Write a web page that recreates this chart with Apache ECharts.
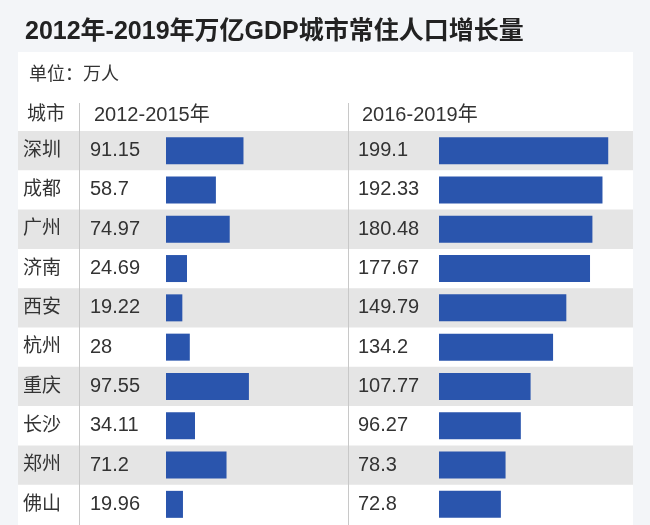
<!DOCTYPE html>
<html>
<head>
<meta charset="utf-8">
<script src="https://cdn.jsdelivr.net/npm/echarts@6/dist/echarts.min.js"></script>
<style>
html,body{margin:0;padding:0;background:#f3f5f8;}
#c{width:650px;height:525px;}
</style>
</head>
<body>
<div id="c"></div>
<script>
const cities = ['深圳','成都','广州','济南','西安','杭州','重庆','长沙','郑州','佛山'];
const growth2012_2015 = [91.15, 58.7, 74.97, 24.69, 19.22, 28, 97.55, 34.11, 71.2, 19.96];
const growth2016_2019 = [199.1, 192.33, 180.48, 177.67, 149.79, 134.2, 107.77, 96.27, 78.3, 72.8];
const titleText = '2012年-2019年万亿GDP城市常住人口增长量';
const unitText = '单位：万人';
const headers = ['城市', '2012-2015年', '2016-2019年'];

const FONT = '"Liberation Sans", "Noto Sans CJK SC", sans-serif';
const TXT = '#333';
const BAR = '#2a55ad';
const ROWS_TOP = 131, ROWS_H = 393;

const chart = echarts.init(document.getElementById('c'), null, {renderer: 'canvas'});
const catAxisBase = {
  type: 'category', data: cities, inverse: true,
  axisLine: {show: false}, axisTick: {show: false}
};
const option = {
  backgroundColor: '#f3f5f8',
  animation: false,
  textStyle: {fontFamily: FONT},
  title: [
    {text: titleText, left: 20, top: 15, textStyle: {fontSize: 25, fontWeight: 'bold', color: '#222', fontFamily: FONT}},
    {text: unitText, left: 24, top: 61, textStyle: {fontSize: 18, fontWeight: 'normal', color: TXT, fontFamily: FONT}},
    {text: headers[0], left: 22, top: 100, textStyle: {fontSize: 19, fontWeight: 'normal', color: TXT, fontFamily: FONT}},
    {text: headers[1], left: 89, top: 100, textStyle: {fontSize: 20, fontWeight: 'normal', color: TXT, fontFamily: FONT}},
    {text: headers[2], left: 357, top: 100, textStyle: {fontSize: 20, fontWeight: 'normal', color: TXT, fontFamily: FONT}}
  ],
  grid: [
    {left: 18, right: 17, top: 52, bottom: -2, show: true, backgroundColor: '#ffffff', borderWidth: 0},
    {left: 18, right: 17, top: ROWS_TOP, height: ROWS_H},
    {left: 166, width: 170, top: ROWS_TOP, height: ROWS_H},
    {left: 439, width: 170, top: ROWS_TOP, height: ROWS_H}
  ],
  xAxis: [
    {gridIndex: 0, type: 'value', show: false},
    {gridIndex: 1, type: 'value', show: false},
    {gridIndex: 2, type: 'value', min: 0, max: 200, show: false},
    {gridIndex: 3, type: 'value', min: 0, max: 200, show: false}
  ],
  yAxis: [
    {gridIndex: 0, type: 'value', show: false},
    Object.assign({}, catAxisBase, {
      gridIndex: 1,
      splitArea: {show: true, areaStyle: {color: ['#e5e5e5', 'rgba(255,255,255,0)']}},
      axisLabel: {inside: true, margin: 5, fontSize: 19, color: TXT, fontFamily: FONT, padding: [3, 0, 0, 0]}
    }),
    Object.assign({}, catAxisBase, {
      gridIndex: 2,
      axisLabel: {margin: 76, align: 'left', fontSize: 20, color: TXT, fontFamily: FONT, padding: [2, 0, 0, 0],
        formatter: (v, i) => String(growth2012_2015[i])}
    }),
    Object.assign({}, catAxisBase, {
      gridIndex: 3,
      axisLabel: {margin: 81, align: 'left', fontSize: 20, color: TXT, fontFamily: FONT, padding: [2, 0, 0, 0],
        formatter: (v, i) => String(growth2016_2019[i])}
    })
  ],
  graphic: [
    {type: 'line', shape: {x1: 79.5, y1: 103, x2: 79.5, y2: 525}, style: {stroke: '#c8c8c8', lineWidth: 1}, z: 100},
    {type: 'line', shape: {x1: 348.5, y1: 103, x2: 348.5, y2: 525}, style: {stroke: '#c8c8c8', lineWidth: 1}, z: 100}
  ],
  series: [
    {type: 'bar', xAxisIndex: 1, yAxisIndex: 1, data: [], silent: true},
    {type: 'bar', xAxisIndex: 2, yAxisIndex: 2, data: growth2012_2015, barWidth: 27,
      itemStyle: {color: BAR}},
    {type: 'bar', xAxisIndex: 3, yAxisIndex: 3, data: growth2016_2019, barWidth: 27,
      itemStyle: {color: BAR}}
  ]
};
chart.setOption(option);
</script>
</body>
</html>
